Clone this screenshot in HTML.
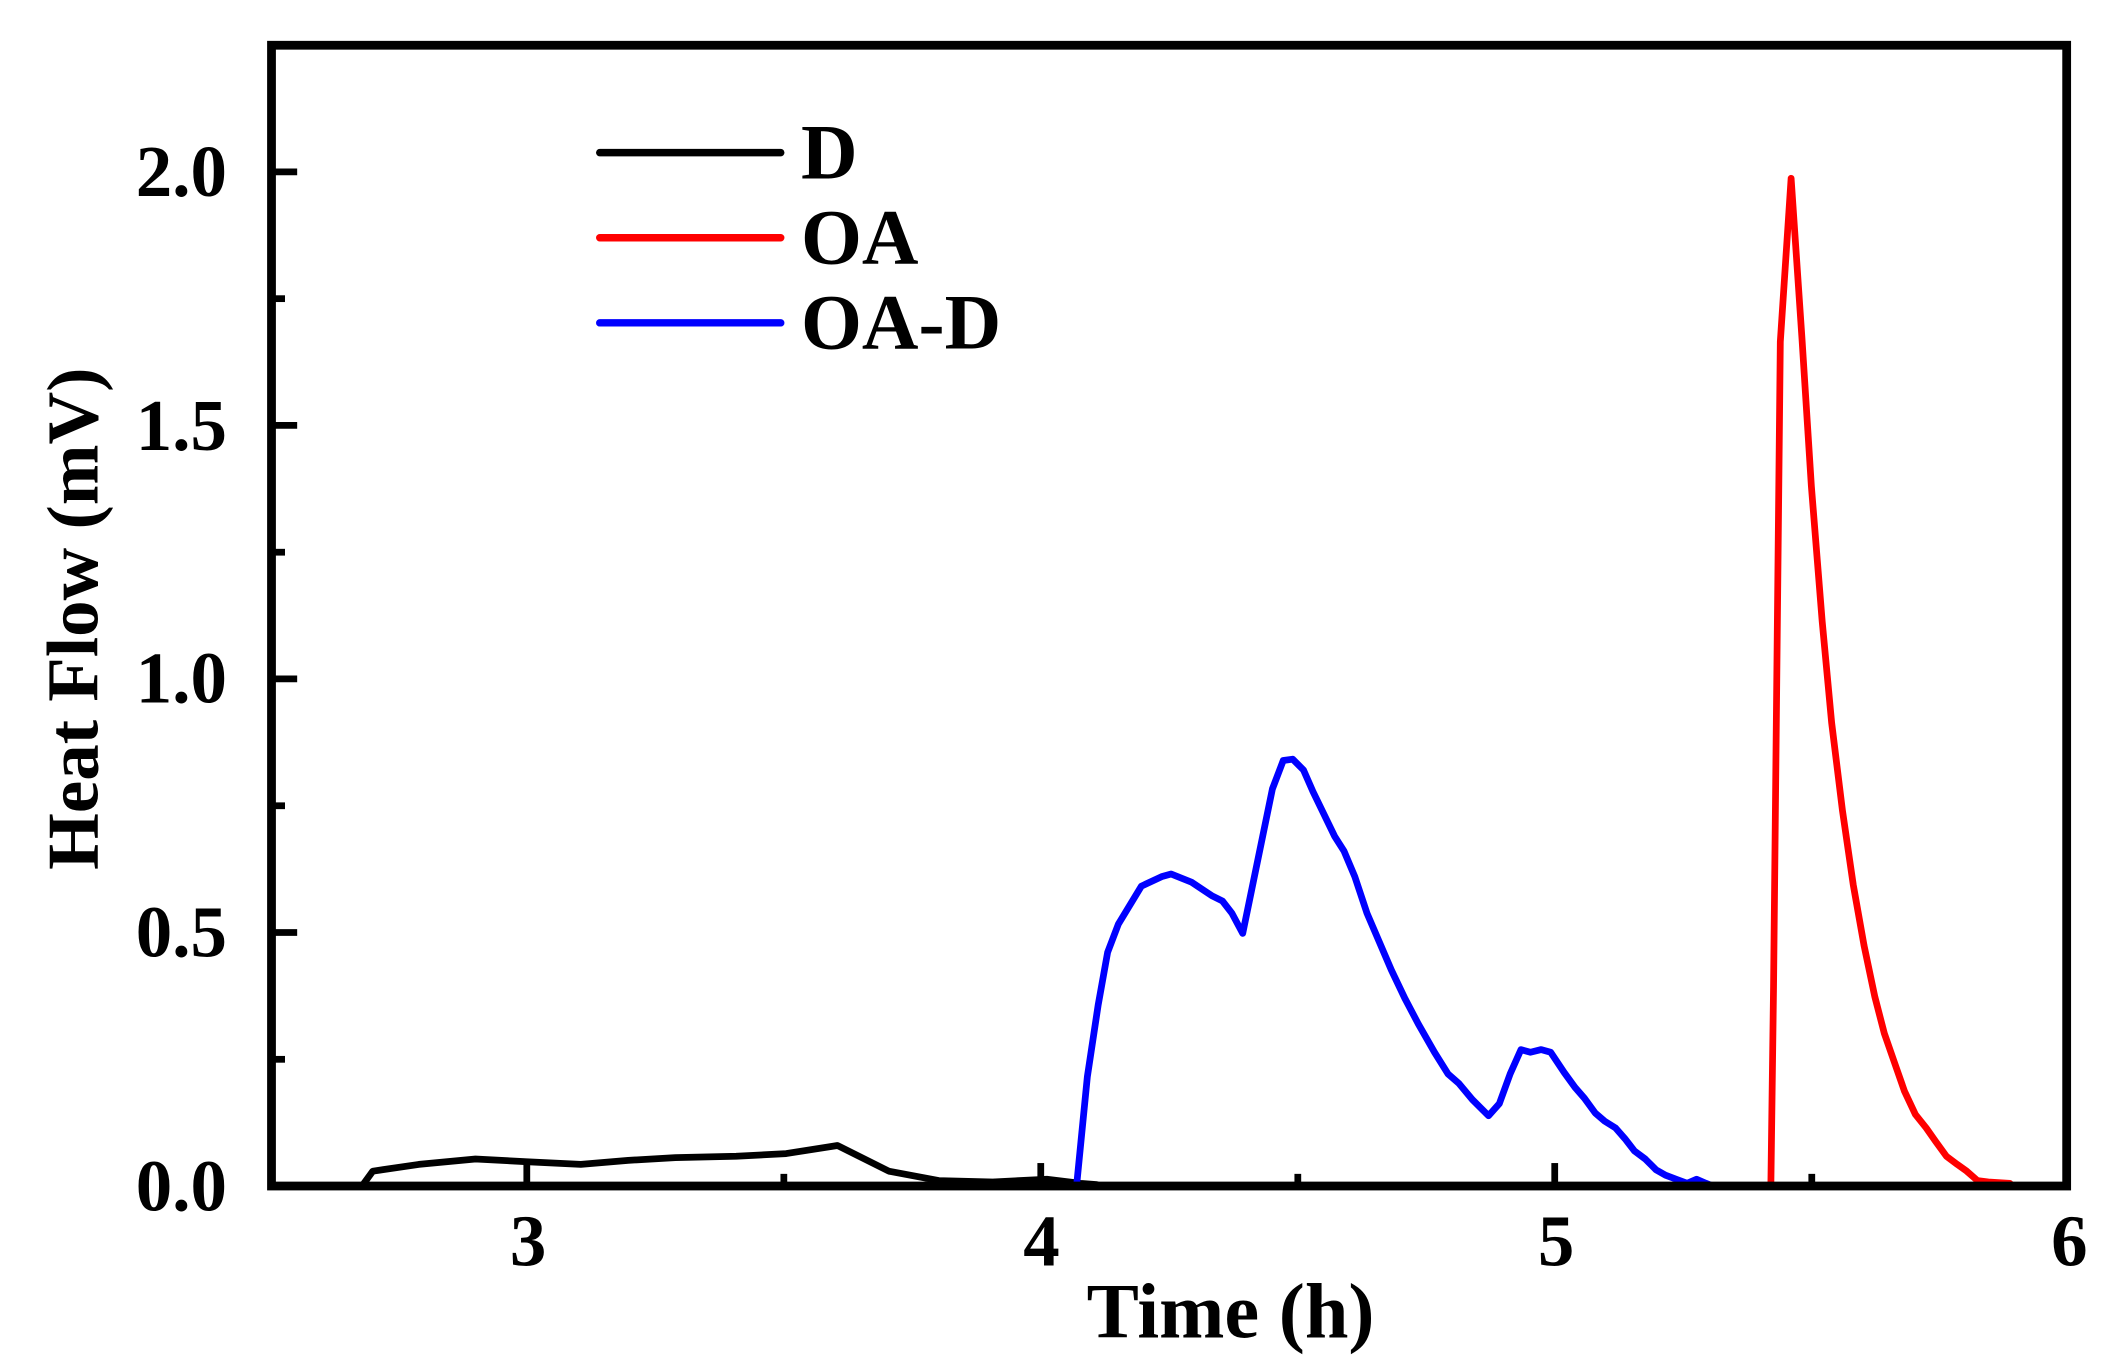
<!DOCTYPE html>
<html><head><meta charset="utf-8"><style>
html,body{margin:0;padding:0;background:#fff;}
svg{display:block;}
text{font-family:"Liberation Serif",serif;font-weight:bold;fill:#000;}
</style></head><body>
<svg width="2118" height="1365" viewBox="0 0 1568 1010.5" preserveAspectRatio="none" xmlns="http://www.w3.org/2000/svg">
<rect width="1568" height="1010.5" fill="#fff"/>
<g stroke="#000" stroke-width="5" fill="none">
<line x1="201" y1="878" x2="220" y2="878"/>
<line x1="201" y1="690.3" x2="220" y2="690.3"/>
<line x1="201" y1="502.6" x2="220" y2="502.6"/>
<line x1="201" y1="314.9" x2="220" y2="314.9"/>
<line x1="201" y1="127.2" x2="220" y2="127.2"/>
<line x1="201" y1="784.2" x2="211" y2="784.2"/>
<line x1="201" y1="596.5" x2="211" y2="596.5"/>
<line x1="201" y1="408.8" x2="211" y2="408.8"/>
<line x1="201" y1="221.1" x2="211" y2="221.1"/>
<line x1="390" y1="878" x2="390" y2="861"/>
<line x1="770.5" y1="878" x2="770.5" y2="861"/>
<line x1="1151" y1="878" x2="1151" y2="861"/>
<line x1="580.3" y1="878" x2="580.3" y2="869"/>
<line x1="960.8" y1="878" x2="960.8" y2="869"/>
<line x1="1341.3" y1="878" x2="1341.3" y2="869"/>
</g>
<g fill="none" stroke-width="5" stroke-linejoin="round" stroke-linecap="round">
<polyline stroke="#000" points="268,878 276,867 310,862 352,858 390,860 430,862 465,859 500,857 545,856 582,854 620,848 658,867 695,874 735,875 775,873 800,876 812,877"/>
<polyline stroke="#0000ff" points="797,878 805,797 813,744 820,705 828,684 845,656 860,649 867,647 882,653 897,663 905,667 912,676 920,691 942,584 950,563 957,562 965,570 972,586 988,619 995,630 1003,649 1012,676 1030,718 1040,739 1050,758 1062,779 1072,795 1080,802 1090,814 1102,826 1110,817 1118,795 1126,777 1133,779 1141,777 1148,779 1158,794 1166,805 1173,813 1181,824 1188,830 1196,835 1203,843 1210,852 1218,858 1226,866 1233,870 1241,873 1249,876 1256,873 1263,876 1268,878"/>
<polyline stroke="#ff0000" points="1311,878 1313,730 1318,253 1326,132 1334,250 1341,360 1349,460 1356,535 1364,600 1372,655 1380,700 1388,738 1395,765 1403,788 1410,808 1418,825 1426,835 1433,845 1441,856 1449,862 1456,867 1464,874 1472,875 1488,876"/>
</g>
<rect x="201" y="33.5" width="1329" height="844.5" fill="none" stroke="#000" stroke-width="6.5"/>
<g stroke-width="5.5" stroke-linecap="round">
<line x1="444" y1="113" x2="578" y2="113" stroke="#000"/>
<line x1="444" y1="176" x2="578" y2="176" stroke="#ff0000"/>
<line x1="444" y1="239" x2="578" y2="239" stroke="#0000ff"/>
</g>
<g font-size="58">
<text x="593" y="132">D</text>
<text x="593" y="195">OA</text>
<text x="593" y="258">OA-D</text>
</g>
<g font-size="54" text-anchor="end">
<text x="168" y="896">0.0</text>
<text x="168" y="708">0.5</text>
<text x="168" y="520">1.0</text>
<text x="168" y="333">1.5</text>
<text x="168" y="145">2.0</text>
</g>
<g font-size="54" text-anchor="middle">
<text x="391" y="937">3</text>
<text x="771" y="937">4</text>
<text x="1152" y="937">5</text>
<text x="1532" y="937">6</text>
</g>
<text x="911" y="990" font-size="58" text-anchor="middle">Time (h)</text>
<text transform="translate(72,458) rotate(-90)" font-size="54" text-anchor="middle">Heat Flow (mV)</text>
</svg>
</body></html>
